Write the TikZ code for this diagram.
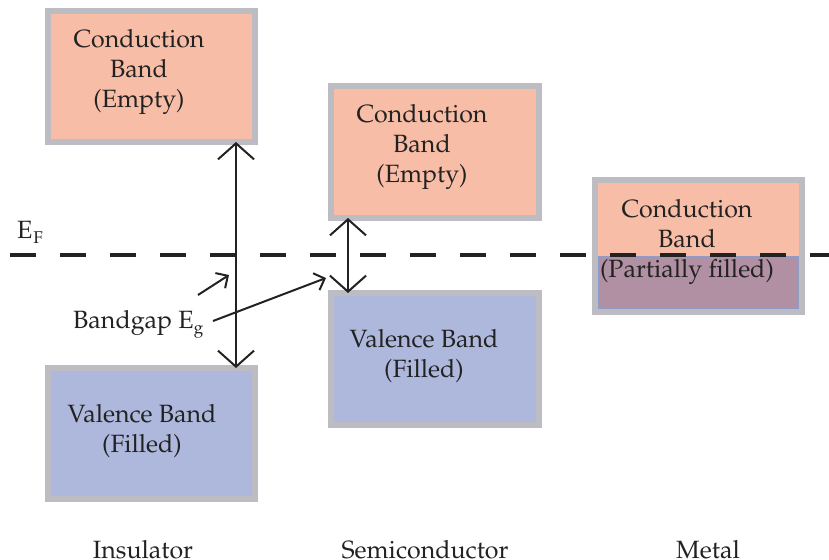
\documentclass[tikz,border=0pt]{standalone}
\usepackage[T1]{fontenc}
\usepackage{mathpazo}
\usetikzlibrary{arrows.meta}
\definecolor{cbfill}{HTML}{F8BDA6}
\definecolor{vbfill}{HTML}{AEB8DC}
\definecolor{bordergray}{HTML}{BCBCC2}
\definecolor{mixfill}{HTML}{B090A2}
\definecolor{mixedge}{HTML}{8E9CC8}
\definecolor{ink}{HTML}{222222}
\tikzset{
  bandlabel/.style={align=center, font=\fontsize{25}{30}\selectfont, text=ink, inner sep=0pt},
  bottomlabel/.style={anchor=base, font=\fontsize{25}{30}\selectfont, text=ink, inner sep=0pt},
  cbbox/.style={fill=cbfill, draw=bordergray, line width=6pt},
  vbbox/.style={fill=vbfill, draw=bordergray, line width=6pt},
  gaparrow/.style={draw=ink, line width=2.4pt, {Straight Barb[length=16pt,width=36pt,line width=2pt]}-{Straight Barb[length=16pt,width=36pt,line width=2pt]}},
  ptrarrow/.style={draw=ink, line width=2pt, -{Straight Barb[length=9pt,width=18pt,line width=2pt]}},
  fermi/.style={draw=ink, line width=4pt, dash pattern=on 26pt off 24pt}
}
\begin{document}
\begin{tikzpicture}[x=1pt,y=-1pt]
\useasboundingbox (0,0) rectangle (829,559);
% Insulator
\path[cbbox] (48,11) rectangle (255,142);
\path[vbbox] (48,368) rectangle (255,499);
\coordinate (icbB) at (236,142);
\coordinate (ivbT) at (236,368);
% Semiconductor
\path[cbbox] (331,86) rectangle (539,218);
\path[vbbox] (331,293) rectangle (539,425);
\coordinate (scbB) at (348,218);
\coordinate (svbT) at (348,293);
% Metal
\path[fill=cbfill, draw=bordergray, line width=6pt] (595,180) rectangle (802,312);
\path[fill=mixfill, draw=mixedge, line width=1pt] (598.5,256) rectangle (798.5,308.5);
% Fermi level
\coordinate (efL) at (10,255);
\coordinate (efR) at (829,255);
\draw[fermi] (efL) -- (efR);
% texts
\node[bandlabel] (icbT) at (139,72) {Conduction\\Band\\(Empty)};
\node[bandlabel] (ivbTx) at (142,431) {Valence Band\\(Filled)};
\node[bandlabel] (scbT) at (422,147) {Conduction\\Band\\(Empty)};
\node[bandlabel] (svbTx) at (424,356) {Valence Band\\(Filled)};
\node[bandlabel] (mT) at (687,242) {Conduction\\Band\\(Partially filled)};
\node[anchor=base west, inner sep=0pt, font=\fontsize{25}{30}\selectfont, text=ink] (ef) at (17,238) {E\hspace{1pt}\raisebox{-5pt}{\fontsize{17}{17}\selectfont F}};
\node[anchor=base west, inner sep=0pt, font=\fontsize{25}{30}\selectfont, text=ink] (bg) at (73,328) {Bandgap E\raisebox{-5pt}{\fontsize{17}{17}\selectfont g}};
% gap arrows
\draw[gaparrow] (icbB) -- (ivbT);
\draw[gaparrow] (scbB) -- (svbT);
% pointers
\coordinate (p1s) at (198,295);
\coordinate (p1e) at (229,275);
\coordinate (p2s) at (213,321);
\coordinate (p2e) at (326,278);
\draw[ptrarrow] (p1s) -- (p1e);
\draw[ptrarrow] (p2s) -- (p2e);
% bottom labels
\node[bottomlabel] (ins) at (143,558) {Insulator};
\node[bottomlabel] (semi) at (425,558) {Semiconductor};
\node[bottomlabel] (met) at (708,558) {Metal};
\end{tikzpicture}
\end{document}
